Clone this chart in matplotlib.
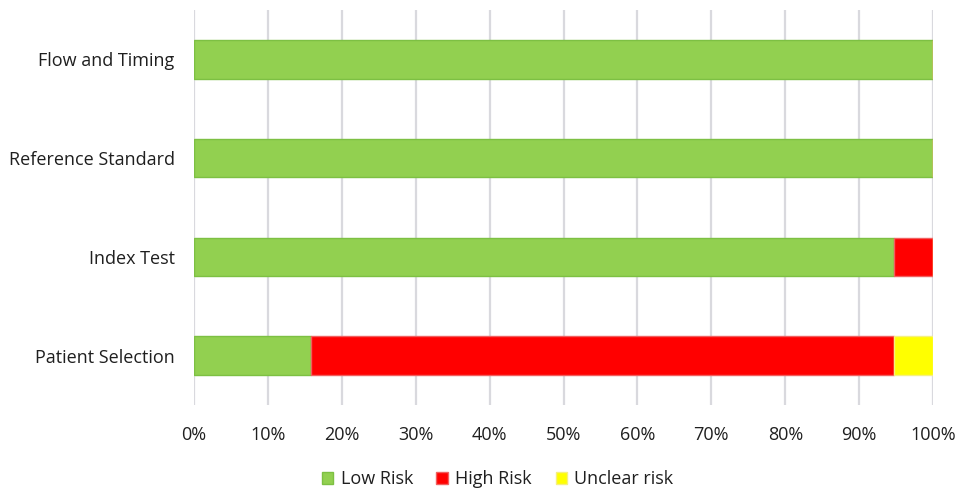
import matplotlib
matplotlib.use("Agg")
import matplotlib.pyplot as plt
from matplotlib.ticker import PercentFormatter

categories = ["Patient Selection", "Index Test", "Reference Standard", "Flow and Timing"]
low_risk = [15.8, 94.7, 100.0, 100.0]
high_risk = [78.9, 5.3, 0.0, 0.0]
unclear_risk = [5.3, 0.0, 0.0, 0.0]
series_names = ["Low Risk", "High Risk", "Unclear risk"]
colors = ["#92D050", "#FF0000", "#FFFF00"]
edges = ["#7DC043", "#F06060", "#F5F080"]

plt.rcParams['font.family'] = ['Open Sans', 'DejaVu Sans']

fig = plt.figure(figsize=(9.57, 4.90), dpi=100)
ax = fig.add_axes([0.2027, 0.1735, 0.975 - 0.2027, 0.9796 - 0.1735])

y = range(len(categories))
left = [0.0] * len(categories)
for vals, name, c, ec in zip([low_risk, high_risk, unclear_risk], series_names, colors, edges):
    ax.barh(y, vals, left=left, height=0.39, color=c, edgecolor=ec, linewidth=1, label=name, zorder=3)
    left = [l + v for l, v in zip(left, vals)]

ax.set_xlim(0, 100)
ax.set_ylim(-0.5, 3.5)
ax.set_xticks(range(0, 101, 10))
ax.xaxis.set_major_formatter(PercentFormatter(decimals=0))
ax.set_yticks(list(y))
ax.set_yticklabels(categories)
ax.grid(axis='x', color='#D9D9DE', linewidth=1.6, zorder=0)
for s in ax.spines.values():
    s.set_visible(False)
ax.tick_params(axis='both', length=0, labelsize=13, colors='#1F1F1F')
ax.tick_params(axis='x', pad=15)
ax.tick_params(axis='y', pad=14)

fig.legend(loc='center', bbox_to_anchor=(0.52, 0.022), ncol=3, frameon=False,
           fontsize=13, handlelength=0.65, handleheight=0.65, handletextpad=0.4,
           columnspacing=1.3, labelcolor='#1F1F1F')

fig.savefig("out.png", dpi=100)
